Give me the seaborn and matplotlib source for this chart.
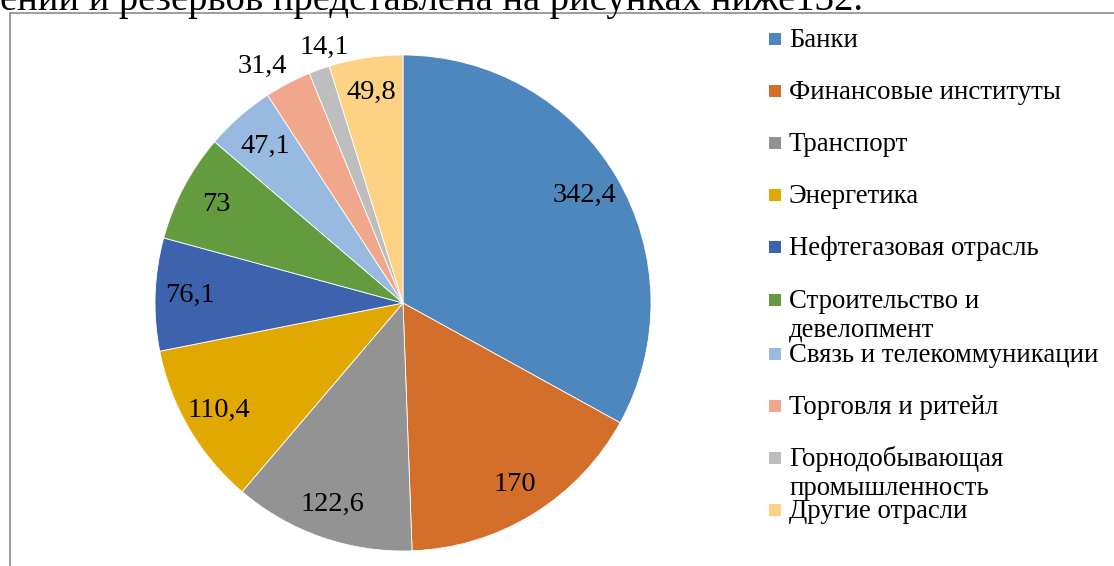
import numpy as np
import matplotlib
matplotlib.use("Agg")
import matplotlib.pyplot as plt
import seaborn as sns
from matplotlib.patches import Rectangle
from matplotlib.lines import Line2D

# ---- data ----
categories = ["Банки", "Финансовые институты", "Транспорт", "Энергетика",
              "Нефтегазовая отрасль", "Строительство и\nдевелопмент",
              "Связь и телекоммуникации", "Торговля и ритейл",
              "Горнодобывающая\nпромышленность", "Другие отрасли"]
values = [342.4, 170, 122.6, 110.4, 76.1, 73, 47.1, 31.4, 14.1, 49.8]
value_labels = ["342,4", "170", "122,6", "110,4", "76,1", "73", "47,1", "31,4", "14,1", "49,8"]
colors = ["#4E87BE", "#D46F2B", "#939393", "#E0A800", "#3D62AE",
          "#649B3E", "#98B9E0", "#F0A78B", "#BEBEBE", "#FDD284"]
title_text = "ений и резервов представлена на рисунках ниже132."

# label placement (radial distance, angular nudge in degrees) - layout only
label_dist = [0.85, 0.86, 0.86, 0.86, 0.86, 0.85, 0.84, 1.11, 1.08, 0.86]
label_nudge = [0, 0, 0, 0, 0, 0, 0, 3.0, -2.6, 0]

sns.set_theme(style="white")
plt.rcParams["font.family"] = ["Liberation Serif", "DejaVu Serif"]

W, H = 1114, 566
fig = plt.figure(figsize=(W / 100, H / 100), dpi=100)
fig.patch.set_facecolor("white")

def fx(px):
    return px / W

def fy(py):
    return 1 - py / H

# frame of the chart area
fig.add_artist(Line2D([fx(9.5), fx(9.5)], [fy(12.5), 0], transform=fig.transFigure,
                      color="#8C8C8C", lw=1.2))
fig.add_artist(Line2D([fx(9.5), 1], [fy(12.5), fy(12.5)], transform=fig.transFigure,
                      color="#8C8C8C", lw=1.2))

# cut-off body text at top
t = fig.text(fx(0), fy(10), title_text, ha="left", va="baseline", fontsize=26, color="black")
fig.canvas.draw()
bb = t.get_window_extent()
t.set_fontsize(26 * 862 / bb.width)

# pie
cx, cy, r = 403, 303, 248
ax = fig.add_axes([fx(cx - r), fy(cy + r), 2 * r / W, 2 * r / H])
wedges, _ = ax.pie(values, colors=colors, startangle=90, counterclock=False, radius=1,
                   wedgeprops=dict(edgecolor="white", linewidth=0.6))
ax.set_xlim(-1, 1)
ax.set_ylim(-1, 1)
ax.set_aspect("equal")
ax.axis("off")

for w, lab, d, nud in zip(wedges, value_labels, label_dist, label_nudge):
    mid = np.deg2rad((w.theta1 + w.theta2) / 2 + nud)
    ax.text(d * np.cos(mid), d * np.sin(mid), lab, ha="center", va="center",
            fontsize=20.5, color="black")

# legend (manual, Excel-like)
baselines = [47, 99, 151, 203, 255, 308, 362, 414, 466, 518]
for name, col, base in zip(categories, colors, baselines):
    fig.add_artist(Rectangle((fx(769), fy(base - 2)), 12 / W, 12 / H,
                             transform=fig.transFigure, facecolor=col, edgecolor="none"))
    for j, line in enumerate(name.split("\n")):
        fig.text(fx(789), fy(base + j * 29), line, ha="left", va="baseline",
                 fontsize=19.3, color="black")

fig.savefig("out.png", dpi=100)
